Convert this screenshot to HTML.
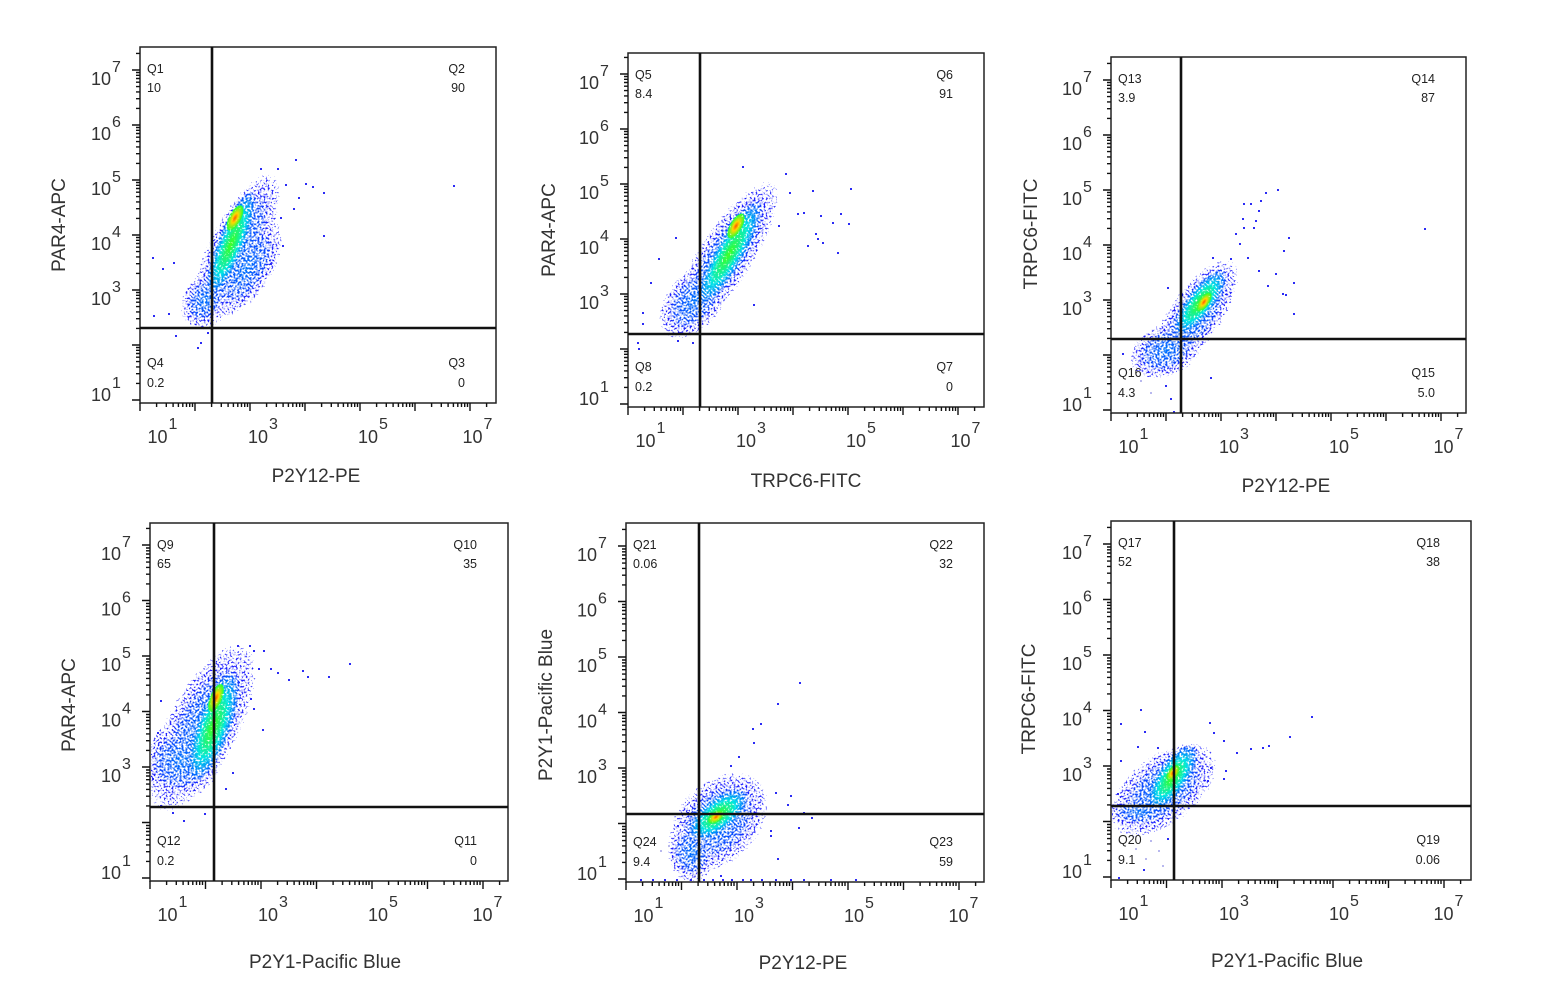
<!DOCTYPE html>
<html><head><meta charset="utf-8"><style>
html,body{margin:0;padding:0;background:#fff;}
svg{display:block;font-family:"Liberation Sans",Arial,sans-serif;}
.bl{mix-blend-mode:lighten;}
</style></head><body>
<svg width="1541" height="1000" viewBox="0 0 1541 1000" xmlns="http://www.w3.org/2000/svg">
<defs>
<radialGradient id="gS"><stop offset="0" stop-color="#9a9a9a"/><stop offset=".6" stop-color="#8c8c8c"/><stop offset=".9" stop-color="#737373"/><stop offset="1" stop-color="#555"/></radialGradient>
<radialGradient id="gM"><stop offset="0" stop-color="#d0d0d0"/><stop offset=".5" stop-color="#b8b8b8"/><stop offset=".9" stop-color="#959595"/><stop offset="1" stop-color="#888"/></radialGradient>
<radialGradient id="gC"><stop offset="0" stop-color="#f8f8f8"/><stop offset=".45" stop-color="#e2e2e2"/><stop offset="1" stop-color="#c8c8c8"/></radialGradient>
<filter id="dens" filterUnits="userSpaceOnUse" x="0" y="0" width="1541" height="1000" color-interpolation-filters="sRGB">
<feTurbulence type="fractalNoise" baseFrequency="0.5" numOctaves="2" seed="5" result="nz"/>
<feColorMatrix in="nz" type="matrix" values="1 0 0 0 0  0 1 0 0 0  0 0 1 0 0  0 0 0 0 1" result="nzo"/>
<feComposite in="SourceGraphic" in2="nzo" operator="arithmetic" k1="0" k2="6" k3="6" k4="-6" result="m"/>
<feColorMatrix in="m" type="matrix" values="0 0 0 0 0  0 0 0 0 0  0 0 0 0 0  1 0 0 0 0" result="ma"/>
<feComponentTransfer in="SourceGraphic" result="jet">
<feFuncR type="table" tableValues=".1 .1 .1 .1 .1 .1 0 0 .2 1 1"/>
<feFuncG type="table" tableValues=".1 .1 .1 .1 .1 .1 .45 .9 1 .85 .15"/>
<feFuncB type="table" tableValues="1 1 1 1 1 1 1 .9 .2 0 0"/>
</feComponentTransfer>
<feComposite in="jet" in2="ma" operator="in"/>
</filter>
<clipPath id="c1"><rect x="141" y="48" width="354" height="354"/></clipPath>
<clipPath id="c2"><rect x="629" y="54" width="354" height="352"/></clipPath>
<clipPath id="c3"><rect x="1112" y="58" width="353" height="354"/></clipPath>
<clipPath id="c4"><rect x="151" y="524" width="356" height="356"/></clipPath>
<clipPath id="c5"><rect x="627" y="524" width="356" height="357"/></clipPath>
<clipPath id="c6"><rect x="1112" y="522" width="358" height="357"/></clipPath>
<path id="xd" d="M0 0V8M16.6 0V4M26.3 0V4M33.1 0V4M38.4 0V4M42.8 0V4M46.5 0V4M49.7 0V4M52.5 0V4" stroke="#111" stroke-width="1.4" fill="none"/>
<path id="xd7" d="M0 0V8M16.6 0V4" stroke="#111" stroke-width="1.4" fill="none"/>
<path id="yd" d="M0 0H-8M0 -16.6H-4M0 -26.3H-4M0 -33.1H-4M0 -38.4H-4M0 -42.8H-4M0 -46.5H-4M0 -49.7H-4M0 -52.5H-4" stroke="#111" stroke-width="1.4" fill="none"/>
<path id="yd7" d="M0 0H-8M0 -16.6H-4" stroke="#111" stroke-width="1.4" fill="none"/>
</defs>
<rect width="1541" height="1000" fill="#fff"/>

<!-- density clouds -->
<g filter="url(#dens)">
<rect width="1541" height="1000" fill="#000"/>
<g clip-path="url(#c1)">
<ellipse class="bl" cx="235" cy="252" rx="86" ry="28" transform="rotate(-64 235 252)" fill="url(#gS)"/>
<ellipse class="bl" cx="246" cy="268" rx="55" ry="26" transform="rotate(-58 246 268)" fill="url(#gS)"/>
<ellipse class="bl" cx="205" cy="300" rx="30" ry="22" transform="rotate(-60 205 300)" fill="url(#gS)"/>
<ellipse class="bl" cx="231" cy="244" rx="56" ry="14" transform="rotate(-68 231 244)" fill="url(#gM)"/>
<ellipse class="bl" cx="235" cy="218" rx="14" ry="6" transform="rotate(-62 235 218)" fill="url(#gC)"/>
</g>
<g clip-path="url(#c2)">
<ellipse class="bl" cx="725" cy="257" rx="88" ry="27" transform="rotate(-57 725 257)" fill="url(#gS)"/>
<ellipse class="bl" cx="695" cy="300" rx="45" ry="27" transform="rotate(-50 695 300)" fill="url(#gS)"/>
<ellipse class="bl" cx="729" cy="254" rx="60" ry="15" transform="rotate(-60 729 254)" fill="url(#gM)"/>
<ellipse class="bl" cx="736" cy="226" rx="14" ry="6" transform="rotate(-60 736 226)" fill="url(#gC)"/>
</g>
<g clip-path="url(#c3)">
<ellipse class="bl" cx="1195" cy="316" rx="66" ry="26" transform="rotate(-55 1195 316)" fill="url(#gS)"/>
<ellipse class="bl" cx="1166" cy="350" rx="38" ry="26" transform="rotate(-25 1166 350)" fill="url(#gS)"/>
<ellipse class="bl" cx="1200" cy="303" rx="40" ry="14" transform="rotate(-53 1200 303)" fill="url(#gM)"/>
<ellipse class="bl" cx="1204" cy="302" rx="11" ry="5" transform="rotate(-55 1204 302)" fill="url(#gC)"/>
</g>
<g clip-path="url(#c4)">
<ellipse class="bl" cx="202" cy="728" rx="92" ry="36" transform="rotate(-62 202 728)" fill="url(#gS)"/>
<ellipse class="bl" cx="182" cy="760" rx="42" ry="38" transform="rotate(-40 182 760)" fill="url(#gS)"/>
<ellipse class="bl" cx="213" cy="727" rx="58" ry="18" transform="rotate(-70 213 727)" fill="url(#gM)"/>
<ellipse class="bl" cx="216" cy="698" rx="15" ry="6" transform="rotate(-68 216 698)" fill="url(#gC)"/>
</g>
<g clip-path="url(#c5)">
<ellipse class="bl" cx="718" cy="822" rx="58" ry="40" transform="rotate(-45 718 822)" fill="url(#gS)"/>
<ellipse class="bl" cx="692" cy="852" rx="24" ry="30" fill="url(#gS)"/>
<ellipse class="bl" cx="718" cy="815" rx="36" ry="17" transform="rotate(-38 718 815)" fill="url(#gM)"/>
<ellipse class="bl" cx="716" cy="817" rx="9" ry="5" transform="rotate(-35 716 817)" fill="url(#gC)"/>
</g>
<g clip-path="url(#c6)">
<ellipse class="bl" cx="1163" cy="790" rx="62" ry="34" transform="rotate(-38 1163 790)" fill="url(#gS)"/>
<ellipse class="bl" cx="1140" cy="812" rx="34" ry="15" fill="url(#gS)"/>
<ellipse class="bl" cx="1172" cy="778" rx="38" ry="16" transform="rotate(-55 1172 778)" fill="url(#gM)"/>
<ellipse class="bl" cx="1173" cy="773" rx="9" ry="5" transform="rotate(-55 1173 773)" fill="url(#gC)"/>
</g>
</g>

<!-- outlier dots -->
<path fill="#2b2bf5" d="M295 159h2v2h-2zM277 168h2v2h-2zM260 168h2v2h-2zM285 184h2v2h-2zM305 183h2v2h-2zM312 186h2v2h-2zM323 192h2v2h-2zM298 197h2v2h-2zM293 208h2v2h-2zM280 217h2v2h-2zM323 235h2v2h-2zM453 185h2v2h-2zM152 257h2v2h-2zM162 268h2v2h-2zM173 262h2v2h-2zM153 315h2v2h-2zM168 313h2v2h-2zM175 335h2v2h-2zM200 342h2v2h-2zM197 347h2v2h-2zM207 332h2v2h-2zM270 263h2v2h-2zM282 245h2v2h-2z
M742 166h2v2h-2zM785 173h2v2h-2zM789 192h2v2h-2zM812 190h2v2h-2zM850 188h2v2h-2zM797 213h2v2h-2zM803 212h2v2h-2zM820 215h2v2h-2zM832 222h2v2h-2zM840 213h2v2h-2zM848 223h2v2h-2zM815 233h2v2h-2zM817 238h2v2h-2zM807 245h2v2h-2zM822 242h2v2h-2zM837 252h2v2h-2zM778 225h2v2h-2zM675 237h2v2h-2zM658 258h2v2h-2zM650 282h2v2h-2zM642 312h2v2h-2zM642 323h2v2h-2zM637 342h2v2h-2zM638 348h2v2h-2zM677 340h2v2h-2zM692 342h2v2h-2zM723 333h2v2h-2zM753 304h2v2h-2z
M1277 189h2v2h-2zM1265 192h2v2h-2zM1260 200h2v2h-2zM1250 203h2v2h-2zM1243 203h2v2h-2zM1258 210h2v2h-2zM1242 218h2v2h-2zM1255 220h2v2h-2zM1253 227h2v2h-2zM1243 227h2v2h-2zM1235 233h2v2h-2zM1239 243h2v2h-2zM1288 237h2v2h-2zM1283 250h2v2h-2zM1247 257h2v2h-2zM1258 270h2v2h-2zM1275 273h2v2h-2zM1293 282h2v2h-2zM1267 285h2v2h-2zM1282 293h2v2h-2zM1285 294h2v2h-2zM1293 313h2v2h-2zM1424 228h2v2h-2zM1212 257h2v2h-2zM1230 258h2v2h-2zM1167 287h2v2h-2zM1122 353h2v2h-2zM1165 385h2v2h-2zM1170 398h2v2h-2zM1173 411h2v2h-2zM1210 377h2v2h-2z
M237 645h2v2h-2zM249 645h2v2h-2zM253 650h2v2h-2zM263 650h2v2h-2zM258 668h2v2h-2zM270 668h2v2h-2zM277 672h2v2h-2zM288 679h2v2h-2zM302 670h2v2h-2zM307 676h2v2h-2zM328 676h2v2h-2zM349 663h2v2h-2zM262 729h2v2h-2zM253 708h2v2h-2zM250 698h2v2h-2zM160 700h2v2h-2zM157 732h2v2h-2zM172 812h2v2h-2zM183 820h2v2h-2zM204 813h2v2h-2zM152 778h2v2h-2zM160 805h2v2h-2zM225 788h2v2h-2zM232 772h2v2h-2z
M799 682h2v2h-2zM777 703h2v2h-2zM760 723h2v2h-2zM752 728h2v2h-2zM753 742h2v2h-2zM738 756h2v2h-2zM730 765h2v2h-2zM775 792h2v2h-2zM790 795h2v2h-2zM787 804h2v2h-2zM803 812h2v2h-2zM811 817h2v2h-2zM798 827h2v2h-2zM770 830h2v2h-2zM777 858h2v2h-2zM770 835h2v2h-2zM687 812h2v2h-2zM677 825h2v2h-2zM720 875h2v2h-2z
M640 879h2v2h-2zM652 879h2v2h-2zM664 879h2v2h-2zM676 879h2v2h-2zM690 879h2v2h-2zM703 879h2v2h-2zM712 879h2v2h-2zM722 879h2v2h-2zM731 879h2v2h-2zM742 879h2v2h-2zM750 879h2v2h-2zM761 879h2v2h-2zM775 879h2v2h-2zM790 879h2v2h-2zM803 879h2v2h-2zM830 879h2v2h-2zM855 879h2v2h-2z
M1140 709h2v2h-2zM1120 723h2v2h-2zM1144 731h2v2h-2zM1137 746h2v2h-2zM1157 747h2v2h-2zM1209 722h2v2h-2zM1213 732h2v2h-2zM1223 740h2v2h-2zM1236 752h2v2h-2zM1250 748h2v2h-2zM1262 747h2v2h-2zM1268 745h2v2h-2zM1289 736h2v2h-2zM1311 716h2v2h-2zM1225 770h2v2h-2zM1223 778h2v2h-2zM1210 767h2v2h-2zM1207 780h2v2h-2zM1120 760h2v2h-2zM1117 793h2v2h-2zM1167 838h2v2h-2zM1143 869h2v2h-2zM1118 877h2v2h-2z"/>
<path fill="#b8b8ee" d="M1150 840h2v2h-2zM1158 850h2v2h-2zM1145 858h2v2h-2zM1162 865h2v2h-2zM1135 848h2v2h-2zM668 845h2v2h-2zM672 858h2v2h-2zM660 850h2v2h-2zM1140 380h2v2h-2zM1150 392h2v2h-2z"/>

<!-- frames and gates -->
<g fill="none" stroke="#222" stroke-width="1.5">
<rect x="140" y="47" width="356" height="356"/>
<rect x="628" y="53" width="356" height="354"/>
<rect x="1111" y="57" width="355" height="356"/>
<rect x="150" y="523" width="358" height="358"/>
<rect x="626" y="523" width="358" height="359"/>
<rect x="1111" y="521" width="360" height="359"/>
</g>
<g stroke="#111" stroke-width="2.6">
<line x1="212" y1="47" x2="212" y2="403"/><line x1="140" y1="328" x2="496" y2="328"/>
<line x1="700" y1="53" x2="700" y2="407"/><line x1="628" y1="334" x2="984" y2="334"/>
<line x1="1181" y1="57" x2="1181" y2="413"/><line x1="1111" y1="339" x2="1466" y2="339"/>
<line x1="214" y1="523" x2="214" y2="881"/><line x1="150" y1="807" x2="508" y2="807"/>
<line x1="699" y1="523" x2="699" y2="882"/><line x1="626" y1="814" x2="984" y2="814"/>
<line x1="1174" y1="521" x2="1174" y2="880"/><line x1="1111" y1="806" x2="1471" y2="806"/>
</g>

<!-- ticks -->
<g>
<use href="#xd" x="140" y="403"/><use href="#xd" x="195" y="403"/><use href="#xd" x="250" y="403"/><use href="#xd" x="305" y="403"/><use href="#xd" x="360" y="403"/><use href="#xd" x="415" y="403"/><use href="#xd7" x="470" y="403"/>
<use href="#yd" x="140" y="400"/><use href="#yd" x="140" y="345"/><use href="#yd" x="140" y="290"/><use href="#yd" x="140" y="235"/><use href="#yd" x="140" y="180"/><use href="#yd" x="140" y="125"/><use href="#yd7" x="140" y="70"/>

<use href="#xd" x="628" y="407"/><use href="#xd" x="683" y="407"/><use href="#xd" x="738" y="407"/><use href="#xd" x="793" y="407"/><use href="#xd" x="848" y="407"/><use href="#xd" x="903" y="407"/><use href="#xd7" x="958" y="407"/>
<use href="#yd" x="628" y="404"/><use href="#yd" x="628" y="349"/><use href="#yd" x="628" y="294"/><use href="#yd" x="628" y="239"/><use href="#yd" x="628" y="184"/><use href="#yd" x="628" y="129"/><use href="#yd7" x="628" y="74"/>

<use href="#xd" x="1111" y="413"/><use href="#xd" x="1166" y="413"/><use href="#xd" x="1221" y="413"/><use href="#xd" x="1276" y="413"/><use href="#xd" x="1331" y="413"/><use href="#xd" x="1386" y="413"/><use href="#xd7" x="1441" y="413"/>
<use href="#yd" x="1111" y="410"/><use href="#yd" x="1111" y="355"/><use href="#yd" x="1111" y="300"/><use href="#yd" x="1111" y="245"/><use href="#yd" x="1111" y="190"/><use href="#yd" x="1111" y="135"/><use href="#yd7" x="1111" y="80"/>

<use href="#xd" x="150" y="881"/><use href="#xd" x="205.5" y="881"/><use href="#xd" x="261" y="881"/><use href="#xd" x="316.5" y="881"/><use href="#xd" x="372" y="881"/><use href="#xd" x="427.5" y="881"/><use href="#xd7" x="483" y="881"/>
<use href="#yd" x="150" y="878"/><use href="#yd" x="150" y="822.5"/><use href="#yd" x="150" y="767"/><use href="#yd" x="150" y="711.5"/><use href="#yd" x="150" y="656"/><use href="#yd" x="150" y="600.5"/><use href="#yd7" x="150" y="545"/>

<use href="#xd" x="626" y="882"/><use href="#xd" x="681.5" y="882"/><use href="#xd" x="737" y="882"/><use href="#xd" x="792.5" y="882"/><use href="#xd" x="848" y="882"/><use href="#xd" x="903.5" y="882"/><use href="#xd7" x="959" y="882"/>
<use href="#yd" x="626" y="879"/><use href="#yd" x="626" y="823.5"/><use href="#yd" x="626" y="768"/><use href="#yd" x="626" y="712.5"/><use href="#yd" x="626" y="657"/><use href="#yd" x="626" y="601.5"/><use href="#yd7" x="626" y="546"/>

<use href="#xd" x="1111" y="880"/><use href="#xd" x="1166.5" y="880"/><use href="#xd" x="1222" y="880"/><use href="#xd" x="1277.5" y="880"/><use href="#xd" x="1333" y="880"/><use href="#xd" x="1388.5" y="880"/><use href="#xd7" x="1444" y="880"/>
<use href="#yd" x="1111" y="877"/><use href="#yd" x="1111" y="821.5"/><use href="#yd" x="1111" y="766"/><use href="#yd" x="1111" y="710.5"/><use href="#yd" x="1111" y="655"/><use href="#yd" x="1111" y="599.5"/><use href="#yd7" x="1111" y="544"/>
</g>

<!-- tick labels -->
<g font-size="18" fill="#333">
<text x="147.5" y="443">10<tspan dx="1" dy="-14" font-size="16">1</tspan></text>
<text x="248" y="443">10<tspan dx="1" dy="-14" font-size="16">3</tspan></text>
<text x="358" y="443">10<tspan dx="1" dy="-14" font-size="16">5</tspan></text>
<text x="462.5" y="443">10<tspan dx="1" dy="-14" font-size="16">7</tspan></text>
<text x="91" y="85">10<tspan dx="1" dy="-13" font-size="16">7</tspan></text>
<text x="91" y="140">10<tspan dx="1" dy="-13" font-size="16">6</tspan></text>
<text x="91" y="195">10<tspan dx="1" dy="-13" font-size="16">5</tspan></text>
<text x="91" y="250">10<tspan dx="1" dy="-13" font-size="16">4</tspan></text>
<text x="91" y="305">10<tspan dx="1" dy="-13" font-size="16">3</tspan></text>
<text x="91" y="401">10<tspan dx="1" dy="-13" font-size="16">1</tspan></text>

<text x="635.5" y="447">10<tspan dx="1" dy="-14" font-size="16">1</tspan></text>
<text x="736" y="447">10<tspan dx="1" dy="-14" font-size="16">3</tspan></text>
<text x="846" y="447">10<tspan dx="1" dy="-14" font-size="16">5</tspan></text>
<text x="950.5" y="447">10<tspan dx="1" dy="-14" font-size="16">7</tspan></text>
<text x="579" y="89">10<tspan dx="1" dy="-13" font-size="16">7</tspan></text>
<text x="579" y="144">10<tspan dx="1" dy="-13" font-size="16">6</tspan></text>
<text x="579" y="199">10<tspan dx="1" dy="-13" font-size="16">5</tspan></text>
<text x="579" y="254">10<tspan dx="1" dy="-13" font-size="16">4</tspan></text>
<text x="579" y="309">10<tspan dx="1" dy="-13" font-size="16">3</tspan></text>
<text x="579" y="405">10<tspan dx="1" dy="-13" font-size="16">1</tspan></text>

<text x="1118.5" y="453">10<tspan dx="1" dy="-14" font-size="16">1</tspan></text>
<text x="1219" y="453">10<tspan dx="1" dy="-14" font-size="16">3</tspan></text>
<text x="1329" y="453">10<tspan dx="1" dy="-14" font-size="16">5</tspan></text>
<text x="1433.5" y="453">10<tspan dx="1" dy="-14" font-size="16">7</tspan></text>
<text x="1062" y="95">10<tspan dx="1" dy="-13" font-size="16">7</tspan></text>
<text x="1062" y="150">10<tspan dx="1" dy="-13" font-size="16">6</tspan></text>
<text x="1062" y="205">10<tspan dx="1" dy="-13" font-size="16">5</tspan></text>
<text x="1062" y="260">10<tspan dx="1" dy="-13" font-size="16">4</tspan></text>
<text x="1062" y="315">10<tspan dx="1" dy="-13" font-size="16">3</tspan></text>
<text x="1062" y="411">10<tspan dx="1" dy="-13" font-size="16">1</tspan></text>

<text x="157.5" y="921">10<tspan dx="1" dy="-14" font-size="16">1</tspan></text>
<text x="258" y="921">10<tspan dx="1" dy="-14" font-size="16">3</tspan></text>
<text x="368" y="921">10<tspan dx="1" dy="-14" font-size="16">5</tspan></text>
<text x="472.5" y="921">10<tspan dx="1" dy="-14" font-size="16">7</tspan></text>
<text x="101" y="560">10<tspan dx="1" dy="-13" font-size="16">7</tspan></text>
<text x="101" y="615.5">10<tspan dx="1" dy="-13" font-size="16">6</tspan></text>
<text x="101" y="671">10<tspan dx="1" dy="-13" font-size="16">5</tspan></text>
<text x="101" y="726.5">10<tspan dx="1" dy="-13" font-size="16">4</tspan></text>
<text x="101" y="782">10<tspan dx="1" dy="-13" font-size="16">3</tspan></text>
<text x="101" y="879">10<tspan dx="1" dy="-13" font-size="16">1</tspan></text>

<text x="633.5" y="922">10<tspan dx="1" dy="-14" font-size="16">1</tspan></text>
<text x="734" y="922">10<tspan dx="1" dy="-14" font-size="16">3</tspan></text>
<text x="844" y="922">10<tspan dx="1" dy="-14" font-size="16">5</tspan></text>
<text x="948.5" y="922">10<tspan dx="1" dy="-14" font-size="16">7</tspan></text>
<text x="577" y="561">10<tspan dx="1" dy="-13" font-size="16">7</tspan></text>
<text x="577" y="616.5">10<tspan dx="1" dy="-13" font-size="16">6</tspan></text>
<text x="577" y="672">10<tspan dx="1" dy="-13" font-size="16">5</tspan></text>
<text x="577" y="727.5">10<tspan dx="1" dy="-13" font-size="16">4</tspan></text>
<text x="577" y="783">10<tspan dx="1" dy="-13" font-size="16">3</tspan></text>
<text x="577" y="880">10<tspan dx="1" dy="-13" font-size="16">1</tspan></text>

<text x="1118.5" y="920">10<tspan dx="1" dy="-14" font-size="16">1</tspan></text>
<text x="1219" y="920">10<tspan dx="1" dy="-14" font-size="16">3</tspan></text>
<text x="1329" y="920">10<tspan dx="1" dy="-14" font-size="16">5</tspan></text>
<text x="1433.5" y="920">10<tspan dx="1" dy="-14" font-size="16">7</tspan></text>
<text x="1062" y="559">10<tspan dx="1" dy="-13" font-size="16">7</tspan></text>
<text x="1062" y="614.5">10<tspan dx="1" dy="-13" font-size="16">6</tspan></text>
<text x="1062" y="670">10<tspan dx="1" dy="-13" font-size="16">5</tspan></text>
<text x="1062" y="725.5">10<tspan dx="1" dy="-13" font-size="16">4</tspan></text>
<text x="1062" y="781">10<tspan dx="1" dy="-13" font-size="16">3</tspan></text>
<text x="1062" y="878">10<tspan dx="1" dy="-13" font-size="16">1</tspan></text>
</g>

<!-- axis titles -->
<g font-size="19" fill="#333" text-anchor="middle">
<text x="316" y="482">P2Y12-PE</text>
<text transform="translate(65,225) rotate(-90)">PAR4-APC</text>
<text x="806" y="487">TRPC6-FITC</text>
<text transform="translate(555,230) rotate(-90)">PAR4-APC</text>
<text x="1286" y="492">P2Y12-PE</text>
<text transform="translate(1037,234) rotate(-90)">TRPC6-FITC</text>
<text x="325" y="968">P2Y1-Pacific Blue</text>
<text transform="translate(75,705) rotate(-90)">PAR4-APC</text>
<text x="803" y="969">P2Y12-PE</text>
<text transform="translate(552,705) rotate(-90)">P2Y1-Pacific Blue</text>
<text x="1287" y="967">P2Y1-Pacific Blue</text>
<text transform="translate(1035,699) rotate(-90)">TRPC6-FITC</text>
</g>

<!-- quadrant labels -->
<g font-size="12.5" fill="#222">
<text x="147" y="73">Q1</text><text x="147" y="92">10</text>
<text x="465" y="73" text-anchor="end">Q2</text><text x="465" y="92" text-anchor="end">90</text>
<text x="147" y="367">Q4</text><text x="147" y="387">0.2</text>
<text x="465" y="367" text-anchor="end">Q3</text><text x="465" y="387" text-anchor="end">0</text>

<text x="635" y="79">Q5</text><text x="635" y="98">8.4</text>
<text x="953" y="79" text-anchor="end">Q6</text><text x="953" y="98" text-anchor="end">91</text>
<text x="635" y="371">Q8</text><text x="635" y="391">0.2</text>
<text x="953" y="371" text-anchor="end">Q7</text><text x="953" y="391" text-anchor="end">0</text>

<text x="1118" y="83">Q13</text><text x="1118" y="102">3.9</text>
<text x="1435" y="83" text-anchor="end">Q14</text><text x="1435" y="102" text-anchor="end">87</text>
<text x="1118" y="377">Q16</text><text x="1118" y="397">4.3</text>
<text x="1435" y="377" text-anchor="end">Q15</text><text x="1435" y="397" text-anchor="end">5.0</text>

<text x="157" y="549">Q9</text><text x="157" y="568">65</text>
<text x="477" y="549" text-anchor="end">Q10</text><text x="477" y="568" text-anchor="end">35</text>
<text x="157" y="845">Q12</text><text x="157" y="865">0.2</text>
<text x="477" y="845" text-anchor="end">Q11</text><text x="477" y="865" text-anchor="end">0</text>

<text x="633" y="549">Q21</text><text x="633" y="568">0.06</text>
<text x="953" y="549" text-anchor="end">Q22</text><text x="953" y="568" text-anchor="end">32</text>
<text x="633" y="846">Q24</text><text x="633" y="866">9.4</text>
<text x="953" y="846" text-anchor="end">Q23</text><text x="953" y="866" text-anchor="end">59</text>

<text x="1118" y="547">Q17</text><text x="1118" y="566">52</text>
<text x="1440" y="547" text-anchor="end">Q18</text><text x="1440" y="566" text-anchor="end">38</text>
<text x="1118" y="844">Q20</text><text x="1118" y="864">9.1</text>
<text x="1440" y="844" text-anchor="end">Q19</text><text x="1440" y="864" text-anchor="end">0.06</text>
</g>
</svg>
</body></html>
